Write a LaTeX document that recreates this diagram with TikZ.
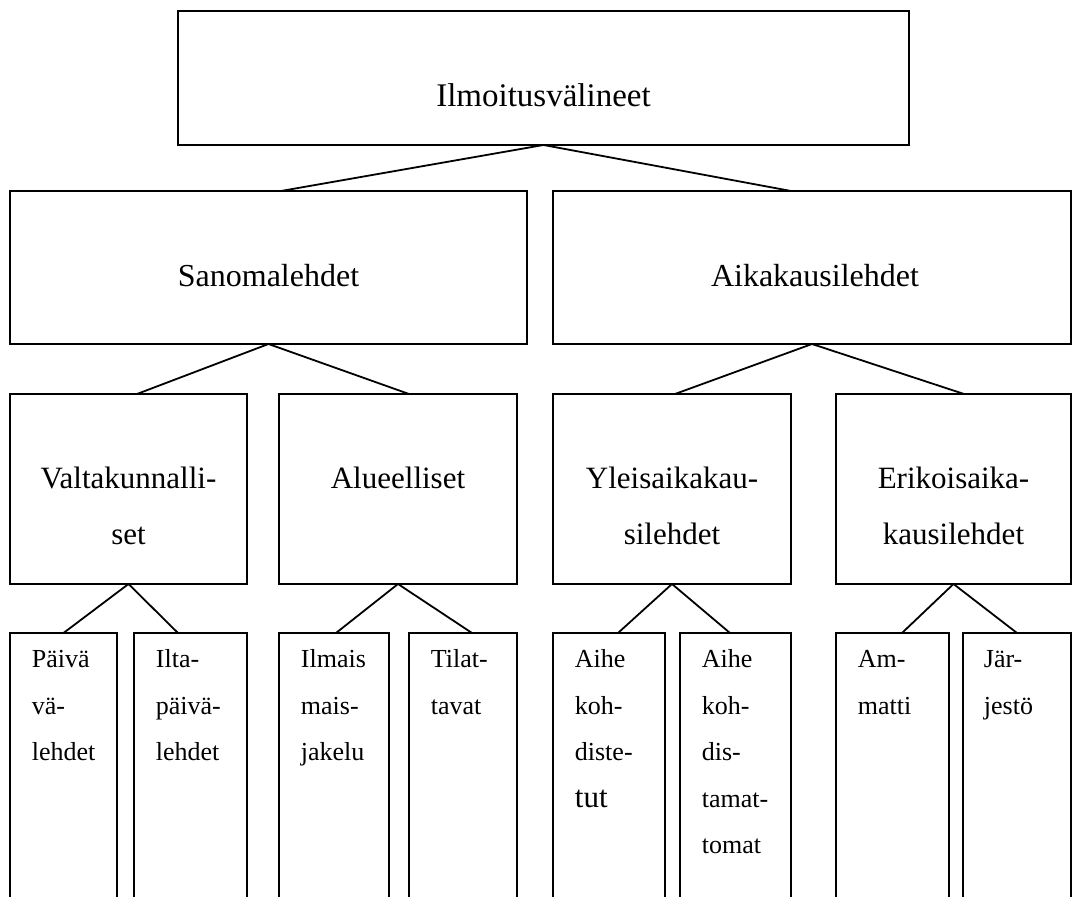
\documentclass[tikz,border=0pt]{standalone}
\usepackage{fontspec}
\setmainfont{Liberation Serif}

\newcommand{\boxlines}[2]{\parbox[t]{#1}{#2}}

\begin{document}
\begin{tikzpicture}[x=0.5pt,y=-0.5pt,line width=0.9pt,
                    box/.style={draw,rectangle,inner sep=0pt,outer sep=0pt,anchor=north west},
                    leaf/.style={box,minimum height=150pt},
                    title/.style={anchor=base,inner sep=0pt},
                    leaftext/.style={anchor=base west,inner sep=0pt,font=\fontsize{13}{23.25}\selectfont}]

  \useasboundingbox (0,0) rectangle (1072,897);

  % boxes
  \node[box,minimum width=365.5pt,minimum height=67pt] (top) at (178,11) {};
  \node[box,minimum width=258.5pt,minimum height=76.5pt] (sano) at (10,191) {};
  \node[box,minimum width=259pt,minimum height=76.5pt] (aika) at (553,191) {};

  \node[box,minimum width=118.5pt,minimum height=95pt] (valt) at (10,394) {};
  \node[box,minimum width=119pt,minimum height=95pt] (alue) at (279,394) {};
  \node[box,minimum width=119pt,minimum height=95pt] (yleis) at (553,394) {};
  \node[box,minimum width=117.5pt,minimum height=95pt] (erik) at (836,394) {};

  \node[leaf,minimum width=53.5pt] (l1) at (10,633) {};
  \node[leaf,minimum width=56.5pt] (l2) at (134,633) {};
  \node[leaf,minimum width=55pt] (l3) at (279,633) {};
  \node[leaf,minimum width=54pt] (l4) at (409,633) {};
  \node[leaf,minimum width=56pt] (l5) at (553,633) {};
  \node[leaf,minimum width=55.5pt] (l6) at (680,633) {};
  \node[leaf,minimum width=56.5pt] (l7) at (836,633) {};
  \node[leaf,minimum width=54pt] (l8) at (963,633) {};

  % texts
  \node[title,font=\fontsize{16.5}{20}\selectfont] (topt) at ([yshift=-48pt]top.north) {Ilmoitusvälineet};
  \node[title,font=\fontsize{16}{20}\selectfont] (sanot) at ([yshift=-48pt]sano.north) {Sanomalehdet};
  \node[title,font=\fontsize{16}{20}\selectfont] (aikat) at ([xshift=1.5pt,yshift=-48pt]aika.north) {Aikakausilehdet};

  \node[title,font=\fontsize{15.5}{28}\selectfont] (valtt) at ([yshift=-47.5pt]valt.north) {\boxlines{112pt}{\centering Valtakunnalli-\\set}};
  \node[title,font=\fontsize{15.5}{28}\selectfont] (aluet) at ([yshift=-47.5pt]alue.north) {\boxlines{112pt}{\centering Alueelliset}};
  \node[title,font=\fontsize{15.5}{28}\selectfont] (yleist) at ([yshift=-47.5pt]yleis.north) {\boxlines{112pt}{\centering Yleisaikakau-\\silehdet}};
  \node[title,font=\fontsize{15.5}{28}\selectfont] (erikt) at ([yshift=-47.5pt]erik.north) {\boxlines{112pt}{\centering Erikoisaika-\\kausilehdet}};

  \node[leaftext] (l1t) at ([xshift=10.5pt,yshift=-17.5pt]l1.north west) {\boxlines{48pt}{\raggedright Päivä\\vä-\\lehdet}};
  \node[leaftext] (l2t) at ([xshift=10.5pt,yshift=-17.5pt]l2.north west) {\boxlines{48pt}{\raggedright Ilta-\\päivä-\\lehdet}};
  \node[leaftext] (l3t) at ([xshift=10.5pt,yshift=-17.5pt]l3.north west) {\boxlines{48pt}{\raggedright Ilmais\\mais-\\jakelu}};
  \node[leaftext] (l4t) at ([xshift=10.5pt,yshift=-17.5pt]l4.north west) {\boxlines{48pt}{\raggedright Tilat-\\tavat}};
  \node[leaftext] (l5t) at ([xshift=10.5pt,yshift=-17.5pt]l5.north west) {\boxlines{48pt}{\raggedright Aihe\\koh-\\diste-\\{\fontsize{15.5}{23.25}\selectfont tut}}};
  \node[leaftext] (l6t) at ([xshift=10.5pt,yshift=-17.5pt]l6.north west) {\boxlines{48pt}{\raggedright Aihe\\koh-\\dis-\\tamat-\\tomat}};
  \node[leaftext] (l7t) at ([xshift=10.5pt,yshift=-17.5pt]l7.north west) {\boxlines{48pt}{\raggedright Am-\\matti}};
  \node[leaftext] (l8t) at ([xshift=10pt,yshift=-17.5pt]l8.north west) {\boxlines{48pt}{\raggedright Jär-\\jestö}};

  % connectors
  \path
    (top.south) edge ([xshift=6.25pt]sano.north)
                edge ([xshift=-10.5pt]aika.north)
    (sano.south) edge ([xshift=4.25pt]valt.north)
                 edge ([xshift=5.5pt]alue.north)
    (aika.south) edge ([xshift=1.5pt]yleis.north)
                 edge ([xshift=5.25pt]erik.north)
    (valt.south) edge (l1.north)
                 edge ([xshift=-6.25pt]l2.north)
    (alue.south) edge ([xshift=1pt]l3.north)
                 edge ([xshift=4.5pt]l4.north)
    (yleis.south) edge ([xshift=4.5pt]l5.north)
                  edge ([xshift=-2.75pt]l6.north)
    (erik.south) edge ([xshift=4.75pt]l7.north)
                 edge (l8.north)
;
\end{tikzpicture}
\end{document}
